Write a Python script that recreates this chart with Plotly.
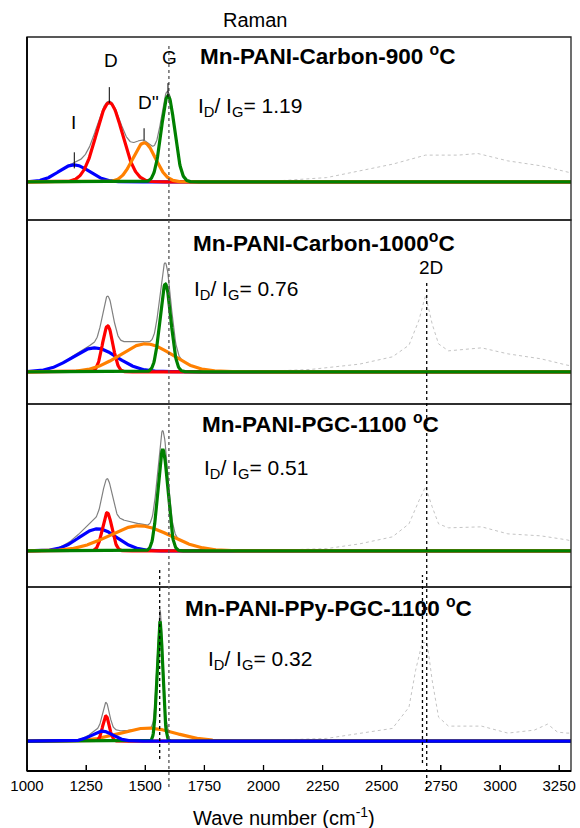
import numpy as np
import plotly.graph_objects as go

FONT = "Liberation Sans, Arial, sans-serif"

# ---------------- data ----------------
panel_titles = ["Mn-PANI-Carbon-900 <sup>o</sup>C",
                "Mn-PANI-Carbon-1000<sup>o</sup>C",
                "Mn-PANI-PGC-1100 <sup>o</sup>C",
                "Mn-PANI-PPy-PGC-1100 <sup>o</sup>C"]
id_ig_values = ["1.19", "0.76", "0.51", "0.32"]

# fitted Gaussian components (centre cm-1, height a.u., sigma cm-1)
blue_center = [1199, 1286, 1300, 1318]     # I band
blue_height = [17, 24, 22, 10]
blue_sigma = [65, 95, 80, 45]
red_center = [1348, 1341, 1339, 1334]      # D band
red_height = [79, 46, 38, 25]
red_sigma = [55, 22, 20, 14]
orange_center = [1495, 1502, 1475, 1510]   # D'' band
orange_height = [39, 28, 25, 13]
orange_sigma = [48, 110, 130, 118]
green_center = [1596, 1585, 1574, 1562]    # G band
green_height = [86, 88, 101, 120]
green_sigma = [28, 23, 21, 12]

# raw (unfitted) spectrum beyond the fit region
raw_x = [
    [1750, 1900, 2058, 2267, 2405, 2546, 2685, 2823, 2906, 3032, 3174, 3283, 3300],
    [1750, 1900, 2058, 2197, 2406, 2545, 2615, 2657, 2685, 2713, 2740, 2782, 2922, 3033, 3173, 3283, 3300],
    [1750, 1900, 2058, 2267, 2406, 2545, 2615, 2657, 2685, 2713, 2740, 2782, 2922, 3033, 3173, 3283, 3300],
    [1750, 1900, 2058, 2267, 2406, 2545, 2615, 2643, 2671, 2692, 2713, 2740, 2782, 2922, 3033, 3145, 3201, 3243, 3283, 3300],
]
raw_y = [
    [0.5, 0.5, 1, 4.3, 11, 17.7, 26.7, 26.7, 28.3, 21, 16, 10, 9],
    [0.5, 0.5, 1, 2.3, 7.7, 15, 26.7, 51.7, 76.7, 48, 28, 21, 24, 18, 13, 6.7, 6],
    [0.5, 0.5, 0.7, 2.3, 7, 14, 27, 50, 64, 44, 27, 23, 24, 17, 15, 11, 10],
    [0.5, 0.5, 1, 2.7, 7.7, 12.7, 34, 71, 99, 98, 61, 24, 15, 15, 8, 11, 17, 9, 8, 8],
]

# y ranges of the four stacked panels
y_ranges = [[-38.5, 144.5], [-32.3, 151.7], [-36.5, 146.5], [-30, 154]]

# peak labels in top panel
peak_labels = ["I", "D", "D''", "G"]
peak_label_x = [1196, 1355, 1514, 1602]
peak_label_y = [59.5, 121.5, 79.5, 124.5]
peak_mark_x = [1200, 1348, 1495, 1596]
peak_mark_y0 = [13.5, 78.5, 41.5, 84.5]
peak_mark_y1 = [29.5, 94.5, 53.5, 98.5]

x_ticks = [1000, 1250, 1500, 1750, 2000, 2250, 2500, 2750, 3000, 3250]

# ---------------- figure ----------------
W, H = 580, 828
ml, mr, mt, mb = 27, 4, 37, 57
ph = H - mt - mb


def py(p):
    return (H - mb - p) / ph


xg = np.arange(1000, 3301, 2.0)


def gauss(c, h, s):
    return h * np.exp(-(xg - c) ** 2 / (2.0 * s ** 2))


fig = go.Figure()
domains = [[0.75, 1.0], [0.5, 0.75], [0.25, 0.5], [0.0, 0.25]]
ynames = ["y", "y2", "y3", "y4"]

for i in range(4):
    ya = ynames[i]
    b = gauss(blue_center[i], blue_height[i], blue_sigma[i])
    r = gauss(red_center[i], red_height[i], red_sigma[i])
    o = gauss(orange_center[i], orange_height[i], orange_sigma[i])
    g = gauss(green_center[i], green_height[i], green_sigma[i])
    tot = b + r + o + g
    m = xg <= 1850
    fig.add_trace(go.Scatter(x=raw_x[i], y=raw_y[i], yaxis=ya, mode="lines",
                             line=dict(color="#c4c4c4", width=1, dash="dot"),
                             showlegend=False, hoverinfo="skip"))
    fig.add_trace(go.Scatter(x=xg[m], y=tot[m], yaxis=ya, mode="lines",
                             line=dict(color="#808080", width=1.2),
                             showlegend=False, hoverinfo="skip"))
    order = [("b", b, "#0000ff"), ("r", r, "#ff0000"), ("o", o, "#ff8000"), ("g", g, "#008000")]
    if i == 3:
        order = [("o", o, "#ff8000"), ("r", r, "#ff0000"), ("g", g, "#008000"), ("b", b, "#0000ff")]
    for _, yy, col in order:
        fig.add_trace(go.Scatter(x=xg, y=yy, yaxis=ya, mode="lines",
                                 line=dict(color=col, width=3.2),
                                 showlegend=False, hoverinfo="skip"))

layout = dict(
    width=W, height=H,
    margin=dict(l=ml, r=mr, t=mt, b=mb, pad=0),
    paper_bgcolor="white", plot_bgcolor="white",
    font=dict(family=FONT, size=15, color="black"),
    xaxis=dict(range=[1000, 3300], anchor="y4", tickvals=x_ticks,
               ticks="inside", ticklen=6, tickwidth=1.3, tickcolor="black",
               showline=False, showgrid=False, zeroline=False,
               ticklabeloverflow="allow",
               tickfont=dict(size=15, family=FONT), ticklabelstandoff=4),
)
for i in range(4):
    key = "yaxis" if i == 0 else f"yaxis{i+1}"
    layout[key] = dict(domain=domains[i], range=y_ranges[i], anchor="x",
                       visible=False, showgrid=False, zeroline=False)
fig.update_layout(**layout)

shapes = []
# panel frames
bounds = [37, 220, 404, 587, 771]
for i in range(4):
    shapes.append(dict(type="rect", xref="paper", yref="paper", x0=0, x1=1,
                       y0=py(bounds[i + 1]), y1=py(bounds[i]),
                       line=dict(color="#222222", width=1.3), layer="above"))
shapes.append(dict(type="line", xref="paper", yref="paper", x0=0, x1=0, y0=0, y1=1,
                   line=dict(color="black", width=1.8), layer="above"))
shapes.append(dict(type="line", xref="paper", yref="paper", x0=0, x1=1, y0=0, y1=0,
                   line=dict(color="black", width=1.8), layer="above"))
# bottom tick marks (inside)
for t in x_ticks:
    shapes.append(dict(type="line", xref="x", yref="paper", x0=t, x1=t, y0=0, y1=py(765),
                       line=dict(color="black", width=1.3), layer="above"))
# dotted reference lines
shapes.append(dict(type="line", xref="x", yref="paper", x0=1600, x1=1600, y0=py(787), y1=py(43),
                   line=dict(color="#555555", width=1.3, dash="dot"), layer="above"))
shapes.append(dict(type="line", xref="x", yref="paper", x0=2690, x1=2690, y0=py(790), y1=py(282),
                   line=dict(color="black", width=1.3, dash="dot"), layer="above"))
shapes.append(dict(type="line", xref="x", yref="paper", x0=1561, x1=1561, y0=py(759), y1=py(570),
                   line=dict(color="black", width=1.3, dash="dot"), layer="above"))
shapes.append(dict(type="line", xref="x", yref="paper", x0=2672, x1=2672, y0=py(763), y1=py(575),
                   line=dict(color="black", width=1.3, dash="dot"), layer="above"))
# peak markers top panel
for k in range(4):
    shapes.append(dict(type="line", xref="x", yref="y", x0=peak_mark_x[k], x1=peak_mark_x[k],
                       y0=peak_mark_y0[k], y1=peak_mark_y1[k],
                       line=dict(color="black", width=1), layer="above"))
fig.update_layout(shapes=shapes)

ann = []
ann.append(dict(text="Raman", xref="paper", yref="paper", x=(257 - ml) / (W - ml - mr), y=py(20),
                showarrow=False, font=dict(size=20, family=FONT), xanchor="center", yanchor="middle"))
ann.append(dict(text="Wave number (cm<sup>-1</sup>)", xref="paper", yref="paper",
                x=(286.5 - ml) / (W - ml - mr), y=py(816),
                showarrow=False, font=dict(size=20, family=FONT), xanchor="center", yanchor="middle"))
title_x = [1723, 1694, 1732, 1660]
title_py = [55, 242, 423, 607]
id_x = [1715, 1698, 1740, 1757]
id_py = [107, 290, 469, 660]
for i in range(4):
    ann.append(dict(text="<b>" + panel_titles[i] + "</b>", xref="x", yref="paper",
                    x=title_x[i], y=py(title_py[i]), showarrow=False,
                    font=dict(size=22.5, family=FONT), xanchor="left", yanchor="middle"))
    ann.append(dict(text="I<sub>D</sub>/ I<sub>G</sub>= " + id_ig_values[i], xref="x", yref="paper",
                    x=id_x[i], y=py(id_py[i]), showarrow=False,
                    font=dict(size=21, family=FONT), xanchor="left", yanchor="middle"))
for k in range(4):
    ann.append(dict(text=peak_labels[k], xref="x", yref="y", x=peak_label_x[k], y=peak_label_y[k],
                    showarrow=False, font=dict(size=19, family=FONT), xanchor="center", yanchor="middle"))
ann.append(dict(text="2D", xref="x", yref="paper", x=2710, y=py(267), showarrow=False,
                font=dict(size=19, family=FONT), xanchor="center", yanchor="middle"))
fig.update_layout(annotations=ann)

fig.write_html("out.html")
